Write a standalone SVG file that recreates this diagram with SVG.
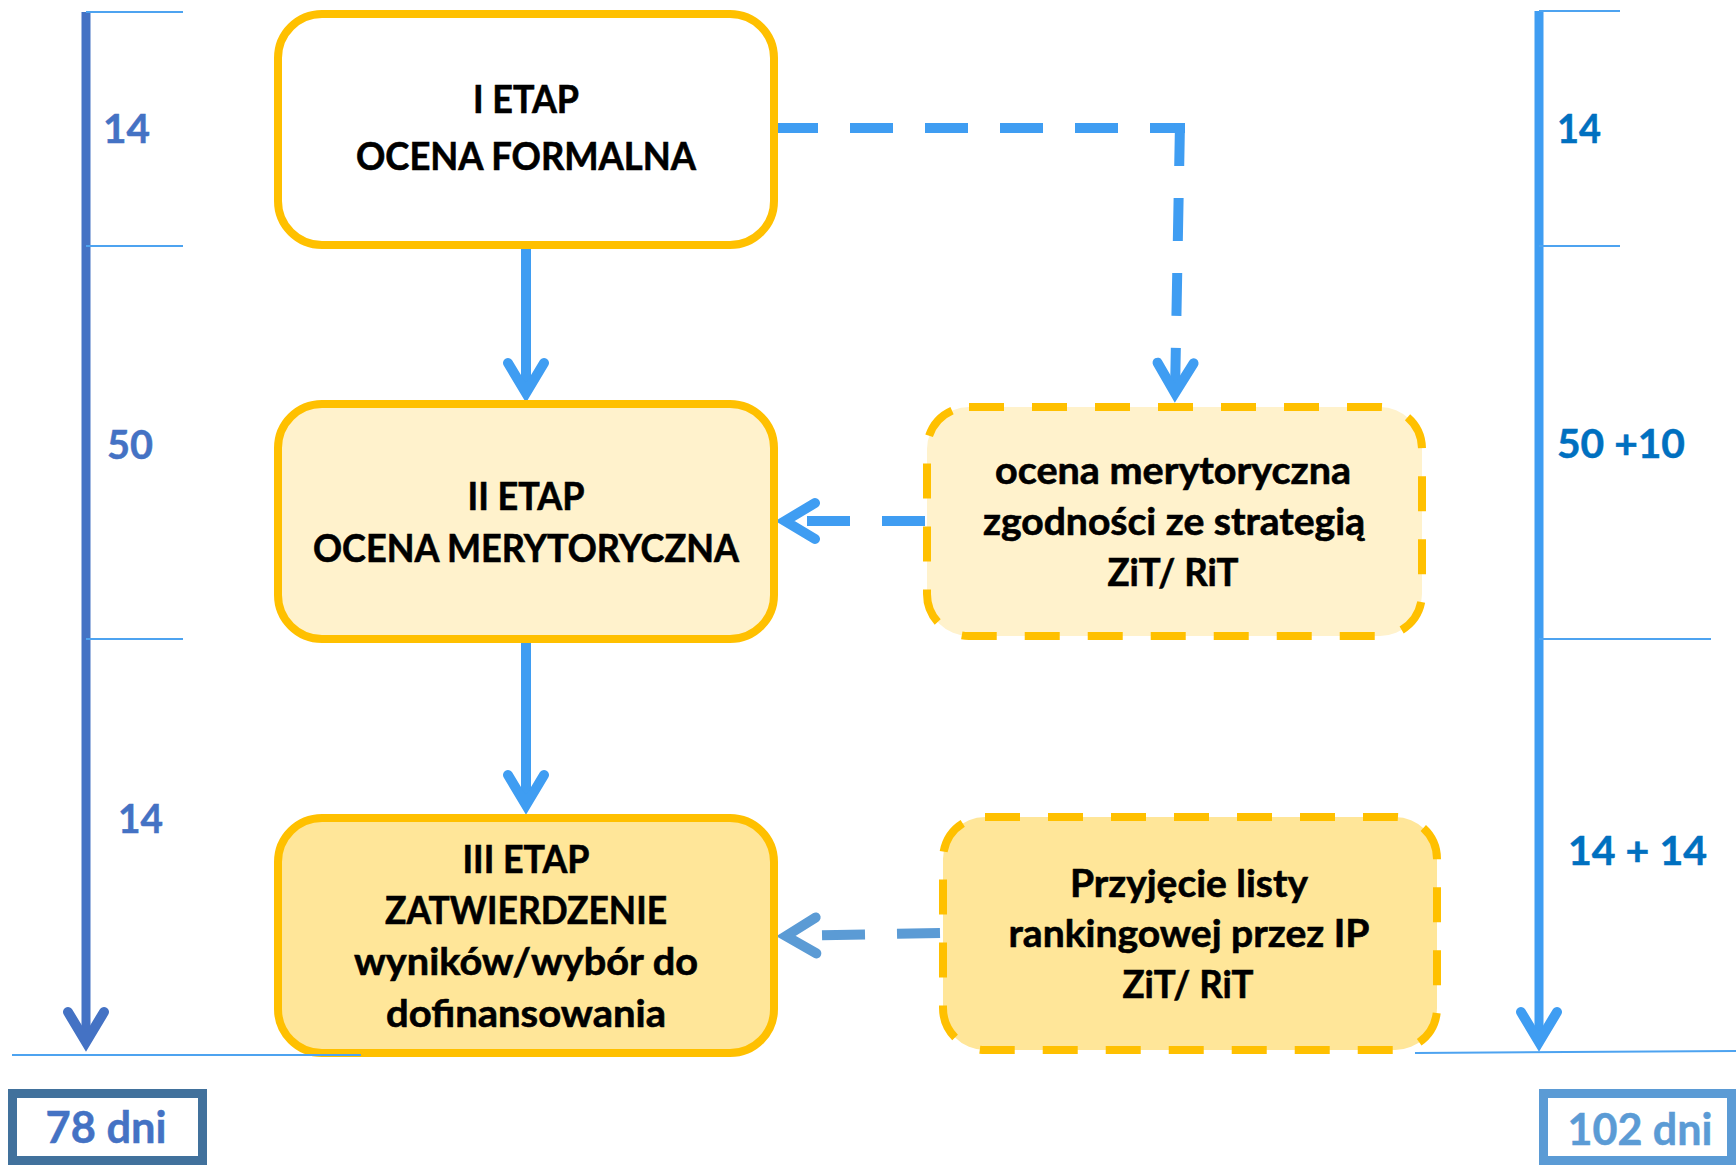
<svg xmlns="http://www.w3.org/2000/svg" width="1736" height="1165" viewBox="0 0 1736 1165">
<style>
  .box { stroke:#FFC000; stroke-width:8; }
  .dbox { stroke:#FFC000; stroke-width:8; stroke-dasharray:35 28; }
  .t { font-family:Lato, "Open Sans", sans-serif; font-weight:bold; font-size:38px; fill:#000; stroke:#000; stroke-width:0.6; text-anchor:middle; }
  .numL { font-family:Lato, "Open Sans", sans-serif; font-weight:bold; font-size:41px; fill:#4472C4; stroke:#4472C4; stroke-width:0.5; }
  .numR { font-family:Lato, "Open Sans", sans-serif; font-weight:bold; font-size:41px; fill:#0070C0; stroke:#0070C0; stroke-width:0.5; }
  .tick { stroke:#4DA3F0; stroke-width:2; fill:none; }
  .conn { stroke:#3F9DF2; stroke-width:10; fill:none; }
  .dash { stroke-dasharray:43 32; }
</style>
<defs>
  <marker id="ahBlue" markerUnits="userSpaceOnUse" orient="auto" overflow="visible" refX="0" refY="0" markerWidth="1" markerHeight="1">
    <path d="M-30,-18 L0,0 L-30,18" fill="none" stroke="#3F9DF2" stroke-width="10" stroke-linecap="round" stroke-linejoin="miter"/>
  </marker>
  <marker id="ahDark" markerUnits="userSpaceOnUse" orient="auto" overflow="visible" refX="0" refY="0" markerWidth="1" markerHeight="1">
    <path d="M-30,-18 L0,0 L-30,18" fill="none" stroke="#4472C4" stroke-width="10" stroke-linecap="round" stroke-linejoin="miter"/>
  </marker>
  <marker id="ahMid" markerUnits="userSpaceOnUse" orient="auto" overflow="visible" refX="0" refY="0" markerWidth="1" markerHeight="1">
    <path d="M-30,-18 L0,0 L-30,18" fill="none" stroke="#5B9BD5" stroke-width="10" stroke-linecap="round" stroke-linejoin="miter"/>
  </marker>
</defs>
<rect width="1736" height="1165" fill="#fff"/>

<g id="connectors">
  <line class="conn" x1="526" y1="249" x2="526" y2="393" marker-end="url(#ahBlue)"/>
  <line class="conn" x1="526" y1="643" x2="526" y2="805" marker-end="url(#ahBlue)"/>
  <path class="conn dash" d="M775,128 H1185"/>
  <path class="conn dash" d="M1180,123 L1175,393" marker-end="url(#ahBlue)"/>
  <path class="conn dash" d="M925,521 L785,521" marker-end="url(#ahBlue)"/>
  <path class="conn dash" d="M940,933 L786,936" style="stroke:#5B9BD5" marker-end="url(#ahMid)"/>
</g>

<g id="etap1">
  <rect class="box" x="278" y="14" width="496" height="231" rx="44" fill="#FFFFFF"/>
  <text class="t" x="526" y="113" textLength="106" lengthAdjust="spacingAndGlyphs">I ETAP</text>
  <text class="t" x="526" y="170" textLength="340" lengthAdjust="spacingAndGlyphs">OCENA FORMALNA</text>
</g>

<g id="etap2">
  <rect class="box" x="278" y="404" width="496" height="235" rx="44" fill="#FFF2CC"/>
  <text class="t" x="526" y="510" textLength="117" lengthAdjust="spacingAndGlyphs">II ETAP</text>
  <text class="t" x="526" y="562" textLength="426" lengthAdjust="spacingAndGlyphs">OCENA MERYTORYCZNA</text>
</g>

<g id="etap3">
  <rect class="box" x="278" y="818" width="496" height="235" rx="44" fill="#FFE699"/>
  <text class="t" x="526" y="873" textLength="127" lengthAdjust="spacingAndGlyphs">III ETAP</text>
  <text class="t" x="526" y="924" textLength="282" lengthAdjust="spacingAndGlyphs">ZATWIERDZENIE</text>
  <text class="t" x="526" y="975" textLength="344" lengthAdjust="spacingAndGlyphs">wyników/wybór do</text>
  <text class="t" x="526" y="1027" textLength="280" lengthAdjust="spacingAndGlyphs">dofinansowania</text>
</g>

<g id="ocena-zit">
  <rect class="dbox" x="927" y="407" width="495" height="229" rx="42" fill="#FFF2CC"/>
  <text class="t" x="1173" y="484" textLength="356" lengthAdjust="spacingAndGlyphs">ocena merytoryczna</text>
  <text class="t" x="1174" y="535" textLength="382" lengthAdjust="spacingAndGlyphs">zgodności ze strategią</text>
  <text class="t" x="1173" y="586" textLength="131" lengthAdjust="spacingAndGlyphs">ZiT/ RiT</text>
</g>

<g id="przyjecie-listy">
  <rect class="dbox" x="943" y="817" width="494" height="233" rx="42" fill="#FFE699"/>
  <text class="t" x="1189" y="897" textLength="238" lengthAdjust="spacingAndGlyphs">Przyjęcie listy</text>
  <text class="t" x="1189" y="947" textLength="361" lengthAdjust="spacingAndGlyphs">rankingowej przez IP</text>
  <text class="t" x="1188" y="998" textLength="131" lengthAdjust="spacingAndGlyphs">ZiT/ RiT</text>
</g>

<g id="timeline-left">
  <line x1="86" y1="12" x2="86" y2="1042" stroke="#4472C4" stroke-width="9" marker-end="url(#ahDark)"/>
  <line class="tick" x1="86" y1="12" x2="183" y2="12"/>
  <line class="tick" x1="86" y1="246" x2="183" y2="246"/>
  <line class="tick" x1="86" y1="639" x2="183" y2="639"/>
  <line class="tick" x1="12" y1="1055" x2="361" y2="1055"/>
  <text class="numL" x="103" y="143" textLength="47" lengthAdjust="spacingAndGlyphs">14</text>
  <text class="numL" x="107" y="459" textLength="46" lengthAdjust="spacingAndGlyphs">50</text>
  <text class="numL" x="118" y="833" textLength="45" lengthAdjust="spacingAndGlyphs">14</text>
</g>

<g id="timeline-right">
  <line x1="1539" y1="11" x2="1539" y2="1042" stroke="#3F9DF2" stroke-width="9" marker-end="url(#ahBlue)"/>
  <line class="tick" x1="1539" y1="11" x2="1620" y2="11"/>
  <line class="tick" x1="1539" y1="246" x2="1620" y2="246"/>
  <line class="tick" x1="1539" y1="639" x2="1711" y2="639"/>
  <line class="tick" x1="1415" y1="1053" x2="1736" y2="1051"/>
  <text class="numR" x="1557" y="143" textLength="44" lengthAdjust="spacingAndGlyphs">14</text>
  <text class="numR" x="1557" y="458" textLength="128" lengthAdjust="spacingAndGlyphs">50 +10</text>
  <text class="numR" x="1568" y="865" textLength="139" lengthAdjust="spacingAndGlyphs">14 + 14</text>
</g>

<g id="total-78">
  <rect x="12.5" y="1093.5" width="190" height="67" fill="#fff" stroke="#41719C" stroke-width="9"/>
  <text x="106" y="1143" font-family="Lato, 'Open Sans', sans-serif" font-weight="bold" font-size="44" fill="#4472C4" stroke="#4472C4" stroke-width="0.5" text-anchor="middle" textLength="121" lengthAdjust="spacingAndGlyphs">78 dni</text>
</g>

<g id="total-102">
  <rect x="1543.5" y="1093.5" width="188" height="67" fill="#fff" stroke="#5B9BD5" stroke-width="9"/>
  <text x="1640" y="1145" font-family="Lato, 'Open Sans', sans-serif" font-weight="bold" font-size="44" fill="#5B9BD5" stroke="#5B9BD5" stroke-width="0.5" text-anchor="middle" textLength="145" lengthAdjust="spacingAndGlyphs">102 dni</text>
</g>
</svg>
